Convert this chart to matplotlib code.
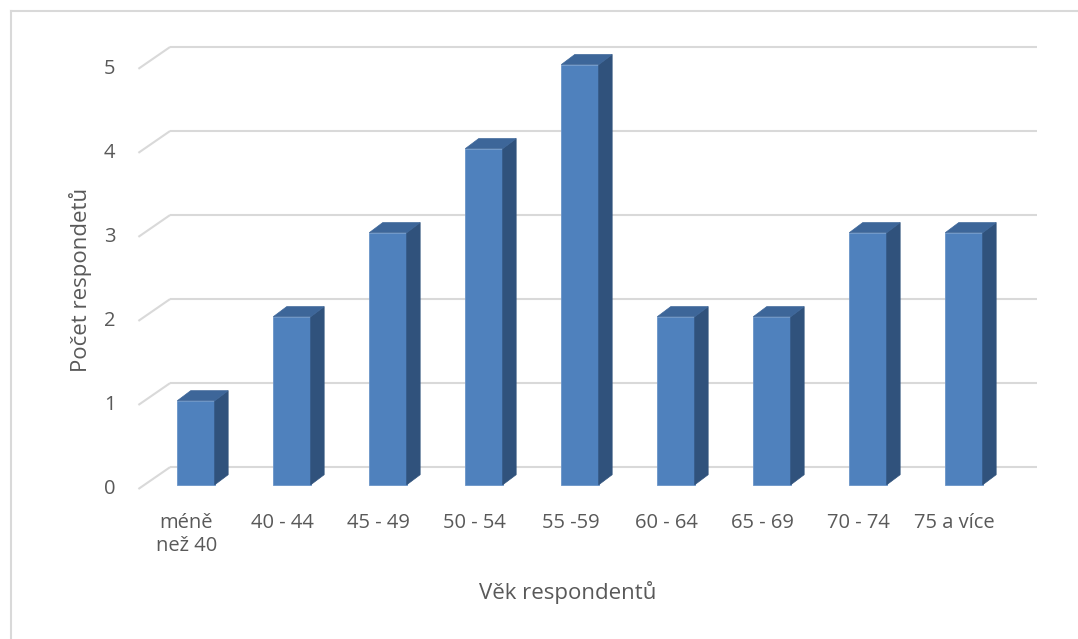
import matplotlib.pyplot as plt
from matplotlib.patches import Polygon

# Věkové skupiny respondentů a jejich počty
kategorie = ["méně\nnež 40", "40 - 44", "45 - 49", "50 - 54", "55 -59",
             "60 - 64", "65 - 69", "70 - 74", "75 a více"]
pocty = [1, 2, 3, 4, 5, 2, 2, 3, 3]
y_ticks = [0, 1, 2, 3, 4, 5]

# Barvy ve stylu Excelu (3D sloupce)
c_front = "#4F81BD"
c_side = "#30527C"
c_top = "#3D6699"
c_grid = "#D9D9D9"
c_text = "#595959"

# Hloubka sloupce a zadní stěny (v jednotkách dat)
bar_w = 0.39
bar_dx, bar_dy = 0.14, 0.12
wall_x0, wall_x1 = -0.60, 8.76
wall_dx, wall_dy = 0.33, 0.26
front_dy = -0.05

plt.rcParams['font.family'] = ['Open Sans', 'DejaVu Sans']

fig = plt.figure(figsize=(10.78, 6.39), dpi=100)
ax = fig.add_axes([100 / 1078, 1 - 510 / 639, 960 / 1078, 479 / 639])
ax.set_xlim(-1.0, 9.0)
ax.set_ylim(-0.3, 5.4)
ax.axis('off')

# Mřížka: šikmý úsek podlahy + vodorovná čára na zadní stěně
for t in y_ticks:
    yf = t + front_dy
    yb = yf + wall_dy
    ax.plot([wall_x0, wall_x0 + wall_dx], [yf, yb], color=c_grid, lw=1.5,
            solid_capstyle='butt', zorder=1)
    ax.plot([wall_x0 + wall_dx, wall_x1], [yb, yb], color=c_grid, lw=1.5,
            solid_capstyle='butt', zorder=1)
    ax.text(wall_x0 - 0.3, yf, str(t), ha='center', va='center',
            fontsize=14.5, color=c_text)

# Sloupce: přední stěna, bok a vršek
for i, v in enumerate(pocty):
    x0 = i - bar_w / 2
    x1 = i + bar_w / 2
    ax.bar(i, v, width=bar_w, color=c_front, edgecolor="#6A94C8",
           linewidth=0.6, zorder=3)
    side = Polygon([(x1, 0), (x1 + bar_dx, bar_dy), (x1 + bar_dx, v + bar_dy),
                    (x1, v)], closed=True, facecolor=c_side, edgecolor=c_side,
                   linewidth=0.5, zorder=3)
    top = Polygon([(x0, v), (x0 + bar_dx, v + bar_dy), (x1 + bar_dx, v + bar_dy),
                   (x1, v)], closed=True, facecolor=c_top, edgecolor=c_top,
                  linewidth=0.5, zorder=3)
    ax.add_patch(side)
    ax.add_patch(top)
    ax.text(i - 0.1, -0.34, kategorie[i], ha='center', va='top',
            fontsize=14.5, color=c_text, linespacing=1.15)

fig.text(80 / 1078, 1 - 280 / 639, "Počet respondetů", rotation=90,
         ha='center', va='center', fontsize=16, color=c_text)
fig.text(568 / 1078, 1 - 592 / 639, "Věk respondentů", ha='center',
         va='center', fontsize=16, color=c_text)

# Rámeček grafu (viditelný jen vlevo a nahoře)
fig.add_artist(plt.Line2D([10.5 / 1078, 10.5 / 1078], [0, 1 - 11 / 639],
                          color="#D9D9D9", lw=1.5))
fig.add_artist(plt.Line2D([10.5 / 1078, 1], [1 - 11 / 639, 1 - 11 / 639],
                          color="#D9D9D9", lw=1.5))

fig.savefig("out.png", dpi=100, facecolor="white")
